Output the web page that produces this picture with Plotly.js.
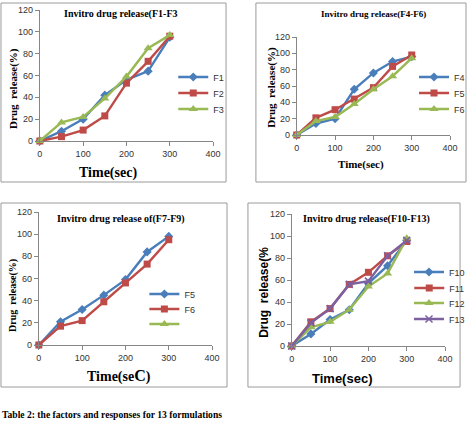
<!DOCTYPE html>
<html>
<head>
<meta charset="utf-8">
<script src="https://cdn.plot.ly/plotly-3.0.1.min.js"></script>
<style>
  html, body { margin: 0; padding: 0; background: #ffffff; }
  #chart { width: 470px; height: 425px; }
</style>
</head>
<body>
<div id="chart"></div>
<script>
// Sampling times (sec), shared by every formulation
const timeSec = [0, 50, 100, 150, 200, 250, 300];

// Cumulative drug release (%) per formulation
const relF1 = [0, 9, 20, 42, 56, 64, 95];
const relF2 = [0, 4, 10, 23, 53, 73, 96];
const relF3 = [0, 17, 22, 39, 59, 85, 97];

const relF4 = [0, 14, 20, 56, 76, 90, 96];
const relF5 = [0, 21, 31, 44, 58, 84, 98];
const relF6 = [0, 17, 22, 38, 56, 72, 94];

const relF7 = [0, 21, 32, 45, 59, 84, 98];
const relF8 = [0, 17, 22, 39, 56, 73, 95];
const relF9 = [null];   // third series of this panel has no plotted values

const relF10 = [0, 11, 24, 33, 57, 73, 96];
const relF11 = [0, 22, 34, 56, 67, 82, 95];
const relF12 = [0, 17, 22, 33, 54, 66, 98];
const relF13 = [0, 21, 34, 56, 59, 82, 96];

// Legend labels as printed in each panel
const names1 = ['F1', 'F2', 'F3'];
const names2 = ['F4', 'F5', 'F6'];
const names3 = ['F5', 'F6', '\u00a0'];
const names4 = ['F10', 'F11', 'F12', 'F13'];

const panelTitles = [
  'Invitro drug release(F1-F3',
  'Invitro drug release(F4-F6)',
  'Invitro drug release of(F7-F9)',
  'Invitro drug release(F10-F13)'
];
const xTitles = ['Time(sec)', 'Time(sec)', 'Time(se<span style="font-size:16px">C</span>)', 'Time(sec)'];
const yTitles = ['Drug\u00a0 release(%)', 'Drug\u00a0 release(%)', 'Drug\u00a0 release(%)', 'Drug\u00a0 release(%'];
const caption = 'Table 2: the factors and responses for 13 formulations';

const W = 470, H = 425;
const px = v => v / W;
const py = v => 1 - v / H;

const BLUE = '#4a7ebb', RED = '#be4b48', GREEN = '#98b954', PURPLE = '#7d60a0';
const styles = [
  { color: BLUE, symbol: 'diamond', size: 7 },
  { color: RED, symbol: 'square', size: 7 },
  { color: GREEN, symbol: 'triangle-up', size: 8 },
  { color: PURPLE, symbol: 'x-thin', size: 7 }
];

// Each legend entry gets its own small legend so the rows sit at the printed spacing
let legendCount = 0;
const legends = {};
const legendFont = { family: 'Liberation Sans, Arial, sans-serif', size: 9, color: '#333333' };
function legendSlot(x, yMid) {
  legendCount += 1;
  const id = legendCount === 1 ? 'legend' : 'legend' + legendCount;
  legends[id] = {
    x: x / W, y: 1 - yMid / H, xanchor: 'left', yanchor: 'middle',
    bgcolor: 'rgba(0,0,0,0)', borderwidth: 0, font: legendFont,
    itemwidth: 30, tracegroupgap: 0
  };
  return id;
}

function series(x, y, name, k, axisIdx, legX, legY) {
  const s = styles[k];
  const sfx = axisIdx === 1 ? '' : String(axisIdx);
  return {
    type: 'scatter', mode: 'lines+markers',
    x: x, y: y, name: name,
    xaxis: 'x' + sfx, yaxis: 'y' + sfx,
    legend: legendSlot(legX, legY),
    cliponaxis: false,
    line: { color: s.color, width: 2.4 },
    marker: s.symbol === 'x-thin'
      ? { symbol: s.symbol, size: s.size, color: s.color, line: { color: s.color, width: 1.5 } }
      : { symbol: s.symbol, size: s.size, color: s.color }
  };
}

const traces = [
  series(timeSec, relF1, names1[0], 0, 1, 174, 77),
  series(timeSec, relF2, names1[1], 1, 1, 174, 93),
  series(timeSec, relF3, names1[2], 2, 1, 174, 109),

  series(timeSec, relF4, names2[0], 0, 2, 416, 77),
  series(timeSec, relF5, names2[1], 1, 2, 416, 93),
  series(timeSec, relF6, names2[2], 2, 2, 416, 109),

  series(timeSec, relF7, names3[0], 0, 3, 145, 294),
  series(timeSec, relF8, names3[1], 1, 3, 145, 309),
  series([null], relF9, names3[2], 2, 3, 145, 324),

  series(timeSec, relF10, names4[0], 0, 4, 411, 272),
  series(timeSec, relF11, names4[1], 1, 4, 411, 288),
  series(timeSec, relF12, names4[2], 2, 4, 411, 303),
  series(timeSec, relF13, names4[3], 3, 4, 411, 319)
];

const tickFont = { family: 'Liberation Sans, Arial, sans-serif', size: 9, color: '#333333' };
function xAx(dom, anchor) {
  return {
    domain: dom, anchor: anchor, range: [0, 400], tickvals: [0, 100, 200, 300, 400],
    showgrid: false, zeroline: false, showline: true, linecolor: '#868686', linewidth: 1,
    ticks: 'outside', ticklen: 4, tickcolor: '#868686', tickfont: tickFont, fixedrange: true
  };
}
function yAx(dom, anchor) {
  return {
    domain: dom, anchor: anchor, range: [0, 120], tickvals: [0, 20, 40, 60, 80, 100, 120],
    showgrid: false, zeroline: false, showline: true, linecolor: '#868686', linewidth: 1,
    ticks: 'outside', ticklen: 4, tickcolor: '#868686', tickfont: tickFont, fixedrange: true
  };
}

// Plot-area placement of the four panels (pixel edges converted to paper units)
const panels = [
  { x: [40, 214], y: [141, 10] },
  { x: [298, 452], y: [135, 37] },
  { x: [39, 213], y: [345, 212] },
  { x: [293, 447], y: [346, 214] }
];
const dx = p => [px(p.x[0]), px(p.x[1])];
const dy = p => [py(p.y[0]), py(p.y[1])];

// Panel frames
const frames = [
  [1, 3, 227, 182], [257, 3, 468, 182], [1, 203, 228, 387], [249, 203, 462, 387]
].map(b => ({
  type: 'rect', xref: 'paper', yref: 'paper',
  x0: px(b[0]), x1: px(b[2]), y0: py(b[3]), y1: py(b[1]),
  line: { color: '#9a9a9a', width: 1 }, fillcolor: 'rgba(0,0,0,0)', layer: 'below'
}));

const serifB = 'Liberation Serif, Times New Roman, serif';
const sansB = 'Liberation Sans, Arial, sans-serif';
function note(text, x, y, size, family, angle) {
  return {
    text: '<b>' + text + '</b>', xref: 'paper', yref: 'paper', x: px(x), y: py(y),
    xanchor: 'center', yanchor: 'middle', showarrow: false, textangle: angle || 0,
    font: { family: family, size: size, color: '#000000' }
  };
}

const annotations = [
  note(panelTitles[0], 122, 14, 10, serifB),
  note(panelTitles[1], 375, 14, 9, serifB),
  note(panelTitles[2], 122, 219, 10, serifB),
  note(panelTitles[3], 368, 219, 10, serifB),

  note(xTitles[0], 108, 173, 14, serifB),
  note(xTitles[1], 363, 164, 11, serifB),
  note(xTitles[2], 120, 376, 14, serifB),
  note(xTitles[3], 343, 378, 13, sansB),

  note(yTitles[0], 14, 88, 11, serifB, -90),
  note(yTitles[1], 272, 87, 11, serifB, -90),
  note(yTitles[2], 13, 295, 10, serifB, -90),
  note(yTitles[3], 265, 292, 12, sansB, -90),

  {
    text: '<b>' + caption + '</b>', xref: 'paper', yref: 'paper', x: 0, y: py(414),
    xanchor: 'left', yanchor: 'middle', showarrow: false,
    font: { family: serifB, size: 9.6, color: '#000000' }
  }
];

const layout = Object.assign({
  width: W, height: H,
  margin: { l: 0, r: 0, t: 0, b: 0 },
  paper_bgcolor: '#ffffff', plot_bgcolor: 'rgba(0,0,0,0)',
  showlegend: true,
  xaxis: xAx(dx(panels[0]), 'y'),   yaxis: yAx(dy(panels[0]), 'x'),
  xaxis2: xAx(dx(panels[1]), 'y2'), yaxis2: yAx(dy(panels[1]), 'x2'),
  xaxis3: xAx(dx(panels[2]), 'y3'), yaxis3: yAx(dy(panels[2]), 'x3'),
  xaxis4: xAx(dx(panels[3]), 'y4'), yaxis4: yAx(dy(panels[3]), 'x4'),
  shapes: frames,
  annotations: annotations
}, legends);

Plotly.newPlot('chart', traces, layout, { staticPlot: true, displayModeBar: false });
</script>
</body>
</html>
